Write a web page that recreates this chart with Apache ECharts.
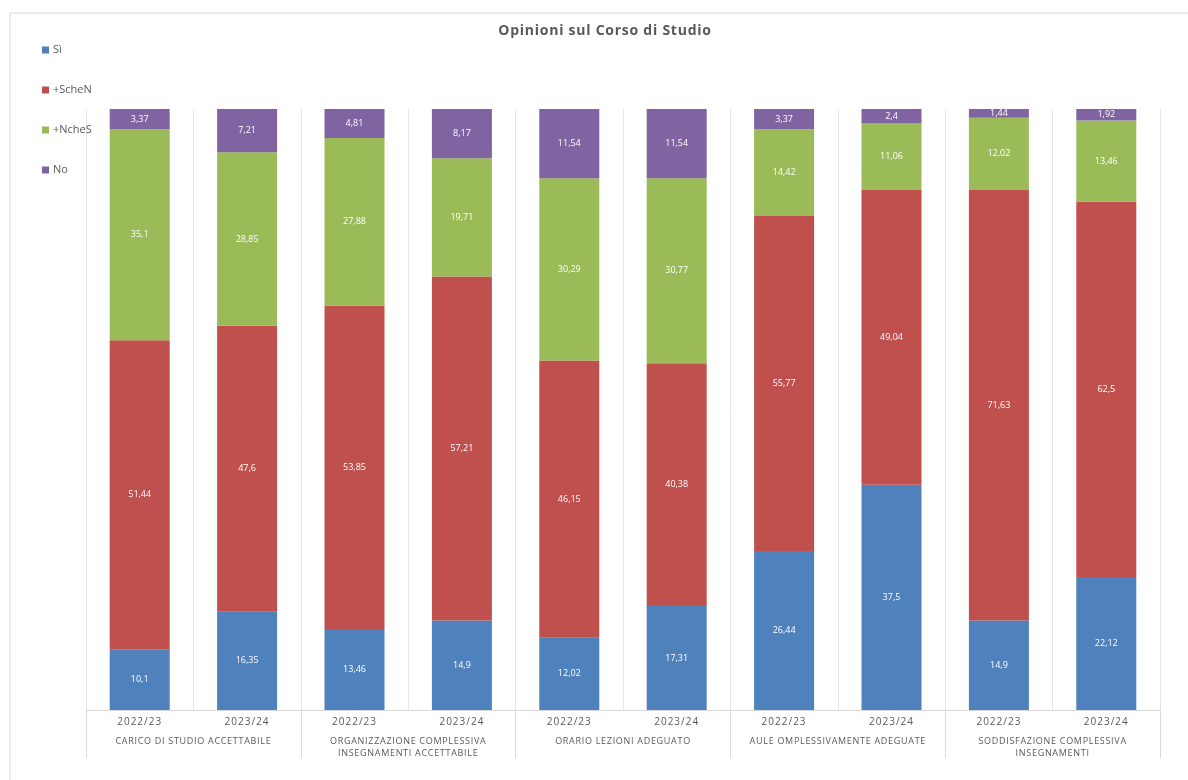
<!DOCTYPE html>
<html>
<head>
<meta charset="utf-8">
<script src="https://cdn.jsdelivr.net/npm/echarts@6/dist/echarts.min.js"></script>
<style>
html,body{margin:0;padding:0;background:#fff;}
#chart{width:1188px;height:780px;}
</style>
</head>
<body>
<div id="chart"></div>
<script>
const years = ['2022/23','2023/24','2022/23','2023/24','2022/23','2023/24','2022/23','2023/24','2022/23','2023/24'];
const groups = ['CARICO DI STUDIO ACCETTABILE','ORGANIZZAZIONE COMPLESSIVA\nINSEGNAMENTI ACCETTABILE','ORARIO LEZIONI ADEGUATO','AULE OMPLESSIVAMENTE ADEGUATE','SODDISFAZIONE COMPLESSIVA\nINSEGNAMENTI'];
const seriesNames = ['Sì','+ScheN','+NcheS','No'];
const si     = [10.1, 16.35, 13.46, 14.9, 12.02, 17.31, 26.44, 37.5, 14.9, 22.12];
const scheN  = [51.44, 47.6, 53.85, 57.21, 46.15, 40.38, 55.77, 49.04, 71.63, 62.5];
const ncheS  = [35.1, 28.85, 27.88, 19.71, 30.29, 30.77, 14.42, 11.06, 12.02, 13.46];
const no     = [3.37, 7.21, 4.81, 8.17, 11.54, 11.54, 3.37, 2.4, 1.44, 1.92];
const colors = ['#4F81BD','#C0504D','#9BBB59','#8064A2'];

// letter spacing for texts whose font family list contains "Arial" (title & axis labels)
(function(){
  const P = CanvasRenderingContext2D.prototype;
  const orig = P.fillText;
  P.fillText = function(t, x, y, w){
    const f = this.font || '';
    if ('letterSpacing' in this) {
      if (f.indexOf('Arial') >= 0) {
        const m = f.match(/(\d+(?:\.\d+)?)px/);
        const s = m ? parseFloat(m[1]) : 10;
        this.letterSpacing = s >= 13 ? '0.75px' : (s >= 10 ? '1px' : '0.7px');
      } else {
        this.letterSpacing = '0px';
      }
    }
    return orig.call(this, t, x, y, w);
  };
})();

const chart = echarts.init(document.getElementById('chart'));
const fmt = p => String(p.value).replace('.', ',');
const mk = (name, data, color) => ({
  name, type: 'bar', stack: 'tot', data, barWidth: 60,
  itemStyle: { color },
  label: { show: true, position: 'inside', color: '#fff', fontSize: 9, fontFamily: 'Open Sans', formatter: fmt },
  emphasis: { disabled: true }
});
chart.setOption({
  animation: false,
  color: colors,
  graphic: [{ type: 'rect', shape: { x: 10, y: 13, width: 1200, height: 800 }, style: { fill: 'none', stroke: '#d9d9d9', lineWidth: 1 }, silent: true }],
  title: {
    text: 'Opinioni sul Corso di Studio', left: 600, top: 19, textAlign: 'center',
    textStyle: { fontSize: 14, fontWeight: 'bold', color: '#595959', fontFamily: 'Open Sans, Arial' }
  },
  legend: {
    orient: 'vertical', left: 37, top: 39, itemWidth: 7, itemHeight: 7, itemGap: 28,
    icon: 'rect', data: seriesNames,
    textStyle: { fontSize: 11, color: '#595959', fontFamily: 'Open Sans', lineHeight: 12, padding: [0,0,0,-1] }
  },
  grid: { left: 86, right: 28, top: 109, bottom: 70, containLabel: false },
  xAxis: [
    { type: 'category', data: years, position: 'bottom',
      axisLine: { show: true, lineStyle: { color: '#d9d9d9' } },
      axisTick: { show: false },
      splitLine: { show: true, lineStyle: { color: '#e6e6e6' } },
      axisLabel: { margin: 7, fontSize: 10, color: '#595959', fontFamily: 'Open Sans, Arial', interval: 0 } },
    { type: 'category', data: groups, position: 'bottom', offset: 0,
      axisLine: { show: false },
      axisTick: { show: true, length: 48, lineStyle: { color: '#d9d9d9' } },
      axisLabel: { margin: 25, fontSize: 9, lineHeight: 12, color: '#595959', fontFamily: 'Open Sans, Arial', interval: 0 } }
  ],
  yAxis: { type: 'value', min: 0, max: 100, show: false, splitLine: { show: false } },
  series: [mk(seriesNames[0], si, colors[0]), mk(seriesNames[1], scheN, colors[1]), mk(seriesNames[2], ncheS, colors[2]), mk(seriesNames[3], no, colors[3])]
});
</script>
</body>
</html>
